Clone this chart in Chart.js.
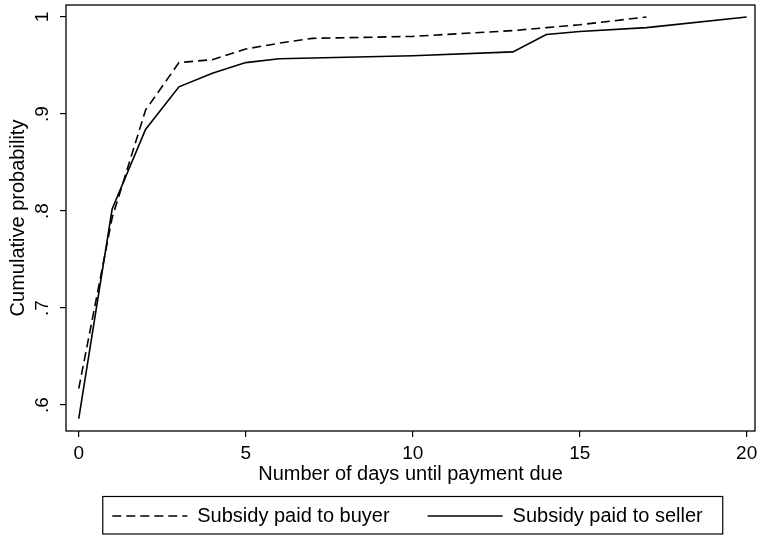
<!DOCTYPE html>
<html>
<head>
<meta charset="utf-8">
<script src="https://cdn.jsdelivr.net/npm/chart.js@4.4.0/dist/chart.umd.min.js"></script>
<style>
  html, body { margin: 0; padding: 0; background: #fff; }
</style>
</head>
<body>
<canvas id="myChart" width="761" height="537"></canvas>
<script>
// DATA
const buyerDays = [0, 1, 2, 3, 4, 5, 6, 7, 10, 13, 14, 15, 17];
const buyerProb = [0.617, 0.793, 0.904, 0.953, 0.956, 0.967, 0.973, 0.978, 0.980, 0.986, 0.989, 0.992, 1.0];
const sellerDays = [0, 1, 2, 3, 4, 5, 6, 10, 13, 14, 15, 17, 20];
const sellerProb = [0.586, 0.802, 0.884, 0.928, 0.942, 0.953, 0.957, 0.960, 0.964, 0.982, 0.985, 0.989, 1.0];
const seriesNames = ['Subsidy paid to buyer', 'Subsidy paid to seller'];
const xTicks = [0, 5, 10, 15, 20];
const yTicks = [0.6, 0.7, 0.8, 0.9, 1];
const yTickLabels = ['.6', '.7', '.8', '.9', '1'];

Chart.defaults.font.family = '"Liberation Sans", Arial, Helvetica, sans-serif';
Chart.defaults.color = '#000';

const toPoints = (xs, ys) => xs.map((x, i) => ({ x: x, y: ys[i] }));

// frame round the plot + box round the legend, legend moved under the plot
const framePlugin = {
  id: 'frame',
  afterLayout(chart) {
    const lg = chart.legend;
    const a = chart.chartArea;
    const pad = lg.options.labels.padding;
    const rowW = lg.lineWidths[0] - pad;
    const startX = (lg.left + pad + lg.right - lg.lineWidths[0]) / 2;
    const shift = (a.left + a.right) / 2 - 3 - (startX + rowW / 2);
    lg.left += shift;
    lg.right += shift;
    lg.top = a.bottom + 85 - pad - 10;
    lg.bottom = chart.height;
    chart.$legendBox = {
      l: startX + shift - 9.5,
      r: startX + shift + rowW + 20,
      t: a.bottom + 65.5,
      b: a.bottom + 103
    };
  },
  afterDraw(chart) {
    const { ctx, chartArea: a } = chart;
    ctx.save();
    ctx.strokeStyle = '#000';
    ctx.lineWidth = 1.3;
    ctx.strokeRect(a.left, a.top, a.right - a.left, a.bottom - a.top);
    const b = chart.$legendBox;
    ctx.lineWidth = 1.2;
    ctx.strokeRect(b.l, b.t, b.r - b.l, b.b - b.t);
    ctx.restore();
  }
};

const ctx = document.getElementById('myChart').getContext('2d');
const chart = new Chart(ctx, {
  type: 'line',
  data: {
    datasets: [{
      label: seriesNames[0],
      data: toPoints(buyerDays, buyerProb),
      borderColor: '#000',
      borderWidth: 1.6,
      borderDash: [9, 5],
      pointRadius: 0,
      fill: false,
      tension: 0
    }, {
      label: seriesNames[1],
      data: toPoints(sellerDays, sellerProb),
      borderColor: '#000',
      borderWidth: 1.6,
      pointRadius: 0,
      fill: false,
      tension: 0
    }]
  },
  options: {
    responsive: false,
    animation: false,
    devicePixelRatio: 1,
    layout: { padding: { left: 0, right: 6, top: 5, bottom: 0 } },
    plugins: {
      tooltip: { enabled: false },
      legend: {
        position: 'bottom',
        maxHeight: 50,
        labels: {
          usePointStyle: true,
          pointStyle: 'line',
          pointStyleWidth: 75,
          padding: 38,
          color: '#000',
          font: { size: 20 },
          // point style legend drops the dash, put the dataset's line style back
          generateLabels: chart => {
            const items = Chart.defaults.plugins.legend.labels.generateLabels(chart);
            items.forEach(item => {
              const ds = chart.data.datasets[item.datasetIndex];
              item.lineDash = ds.borderDash || [];
              item.lineWidth = ds.borderWidth;
              item.strokeStyle = ds.borderColor;
            });
            return items;
          }
        }
      }
    },
    scales: {
      x: {
        type: 'linear',
        min: -0.382,
        max: 20.249,
        afterBuildTicks: s => { s.ticks = xTicks.map(v => ({ value: v })); },
        afterFit: s => { s.height = 56; s.paddingLeft = 0; s.paddingRight = 0; },
        grid: { drawOnChartArea: false, drawTicks: true, tickLength: 6, color: '#000', lineWidth: 1.2 },
        border: { display: false },
        ticks: {
          autoSkip: false, maxRotation: 0, padding: 5,
          font: { size: 19 },
          callback: (v, i) => String(xTicks[i])
        },
        title: {
          display: true,
          text: 'Number of days until payment due',
          font: { size: 20 },
          padding: { top: 0, bottom: 0.5 }
        }
      },
      y: {
        type: 'linear',
        min: 0.5732,
        max: 1.01237,
        afterBuildTicks: s => { s.ticks = yTicks.map(v => ({ value: v })); },
        afterFit: s => { s.width = 66; s.paddingTop = 0; s.paddingBottom = 0; },
        grid: { drawOnChartArea: false, drawTicks: true, tickLength: 6, color: '#000', lineWidth: 1.2 },
        border: { display: false },
        ticks: {
          autoSkip: false, minRotation: 90, maxRotation: 90,
          crossAlign: 'center', padding: 9,
          font: { size: 19 },
          callback: (v, i) => yTickLabels[i]
        },
        title: {
          display: true,
          text: 'Cumulative probability',
          font: { size: 20 },
          padding: { top: 6, bottom: 0 }
        }
      }
    }
  },
  plugins: [framePlugin]
});
</script>
</body>
</html>
